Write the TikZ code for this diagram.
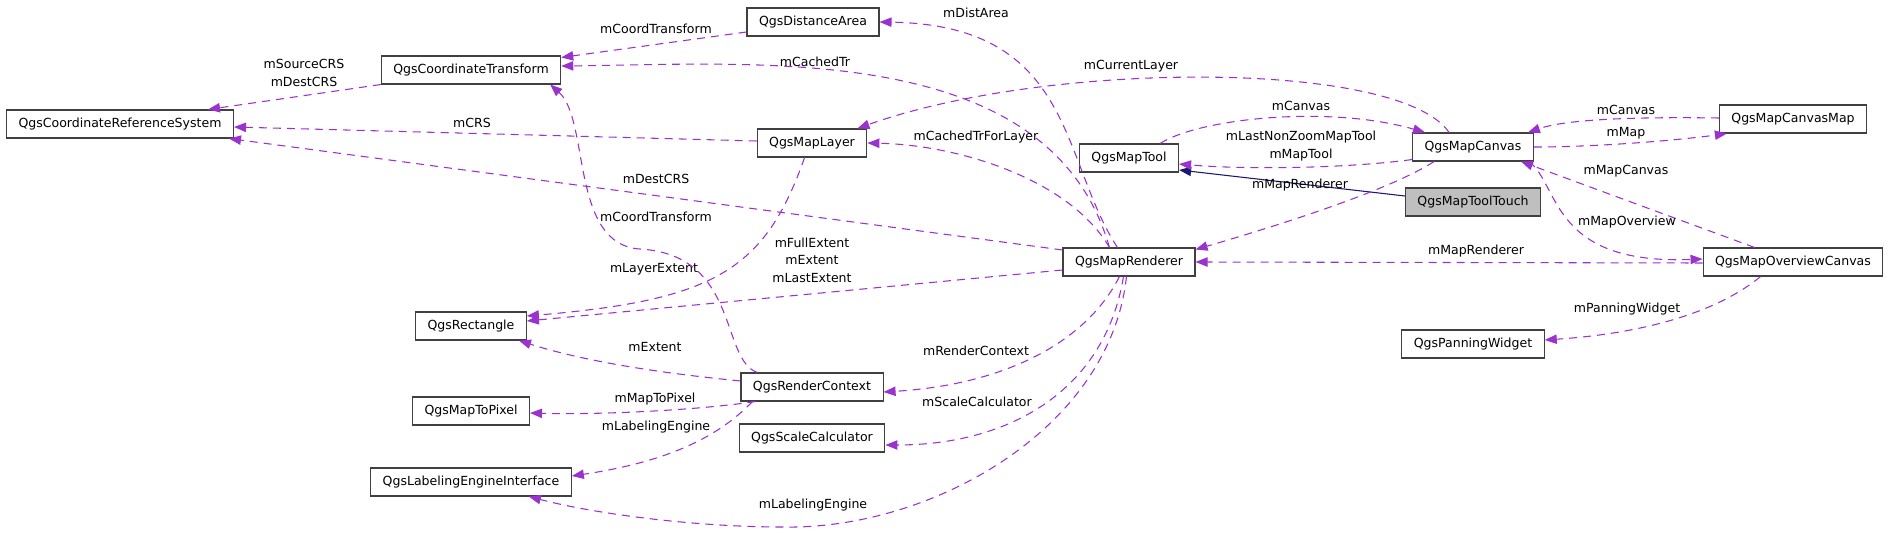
\documentclass[tikz,border=0pt]{standalone}
\usepackage{fontspec}
\setmainfont{DejaVu Sans}
\usetikzlibrary{arrows.meta, calc}
\definecolor{refPurple}{HTML}{9A32CD}
\definecolor{inhNavy}{HTML}{191970}
\definecolor{boxDraw}{HTML}{404040}
\definecolor{curFill}{HTML}{BFBFBF}

\begin{document}
\begin{tikzpicture}[
  x=0.75pt, y=-0.75pt,
  font=\fontsize{9.4}{13}\selectfont,
  cls/.style={rectangle, draw=boxDraw, line width=0.8pt, fill=white,
              inner xsep=9pt, inner ysep=0pt, minimum height=21pt},
  cur/.style={cls, fill=curFill},
  ref/.style={-{Triangle[length=9pt,width=7pt]}, draw=refPurple, line width=0.8pt,
              dash pattern=on 6pt off 4.5pt},
  inh/.style={-{Triangle[length=9pt,width=7pt]}, draw=inhNavy, line width=0.8pt},
  lbl/.style={align=center, inner sep=0pt},
]
\path[fill=white] (0,0) rectangle (1888,549);
\useasboundingbox (0,0) rectangle (1888,549);

% ---- Classes ----
\node[cls] (crs)       at (120,124)  {QgsCoordinateReferenceSystem};
\node[cls] (ct)        at (471,70)   {QgsCoordinateTransform};
\node[cls] (dist)      at (813,22)   {QgsDistanceArea};
\node[cls] (layer)     at (812,143)  {QgsMapLayer};
\node[cls] (tool)      at (1129,158) {QgsMapTool};
\node[cls] (canvas)    at (1473,147) {QgsMapCanvas};
\node[cls] (canvasmap) at (1793,119) {QgsMapCanvasMap};
\node[cur] (touch)     at (1473,202) {QgsMapToolTouch};
\node[cls] (renderer)  at (1129,262) {QgsMapRenderer};
\node[cls] (overview)  at (1793,262) {QgsMapOverviewCanvas};
\node[cls] (rect)      at (471,326)  {QgsRectangle};
\node[cls] (panning)   at (1473,344) {QgsPanningWidget};
\node[cls] (context)   at (812,387)  {QgsRenderContext};
\node[cls] (topixel)   at (471,411)  {QgsMapToPixel};
\node[cls] (scalecalc) at (812,438)  {QgsScaleCalculator};
\node[cls] (labeling)  at (471,482)  {QgsLabelingEngineInterface};

% ---- Inheritance ----
\draw[inh] ($(touch.west)+(0,-6)$) -- ($(tool.east)+(0,12)$);

% ---- Usage: left part ----
\draw[ref] (ct.south west) -- ($(crs.north east)+(-26,0)$)
  node[lbl] (lSrcCRS) at (304,73) {mSourceCRS\\mDestCRS};
\draw[ref] ($(dist.west)+(0,10)$) -- ($(ct.north east)+(0,2)$)
  node[lbl] (lCT1) at (656,29) {mCoordTransform};
\draw[ref] ($(layer.west)+(0,-2)$) -- ($(crs.east)+(0,3)$)
  node[lbl] (lCRS) at (472,123) {mCRS};
\draw[ref] ($(renderer.west)+(0,-12)$) -- ($(crs.south east)+(-5,0)$)
  node[lbl] (lDest) at (656,179) {mDestCRS};
\draw[ref] ($(layer.south west)+(48,0)$) .. controls (765,270) and (715,300) .. ($(rect.east)+(0,-10)$)
  node[lbl] (lLayExt) at (654,269) {mLayerExtent};
\draw[ref] ($(renderer.west)+(0,8)$) -- ($(rect.east)+(0,-5)$)
  node[lbl] (lExt) at (812,260) {mFullExtent\\mExtent\\mLastExtent};

% render context (curve bends twice on its way up)
\draw[ref] ($(context.north west)+(17,0)$) .. controls (720,360) and (740,255) .. (640,249)
  .. controls (570,245) and (590,120) .. ($(ct.south east)+(-11,0)$)
  node[lbl] (lCT2) at (656,217) {mCoordTransform};
\draw[ref] ($(context.west)+(0,-6)$) .. controls (650,372) and (580,360) .. ($(rect.south east)+(-8,0)$)
  node[lbl] (lRcExt) at (655,347) {mExtent};
\draw[ref] ($(context.south west)+(15,0)$) .. controls (700,410) and (600,415) .. ($(topixel.east)+(0,2)$)
  node[lbl] (lM2P) at (655,399) {mMapToPixel};
\draw[ref] ($(context.south west)+(12,0)$) .. controls (725,430) and (680,460) .. ($(labeling.east)+(0,-6)$)
  node[lbl] (lLab1) at (656,427) {mLabelingEngine};

% ---- Usage: renderer ----
\draw[ref] ($(renderer.north west)+(47,0)$) .. controls (1050,40) and (760,64) .. ($(ct.east)+(0,-4)$)
  node[lbl] (lCTr) at (815,62) {mCachedTr};
\draw[ref] ($(renderer.north west)+(55,0)$) .. controls (1060,160) and (1075,25) .. (dist.east)
  node[lbl] (lDist) at (976,13) {mDistArea};
\draw[ref] ($(renderer.north west)+(47,0)$) .. controls (1070,180) and (960,145) .. (layer.east)
  node[lbl] (lCTrL) at (976,137) {mCachedTrForLayer};
\draw[ref] ($(renderer.south west)+(57,0)$) .. controls (1085,345) and (1000,385) .. ($(context.east)+(0,5)$)
  node[lbl] (lRC) at (976,351) {mRenderContext};
\draw[ref] ($(renderer.south west)+(61,0)$) .. controls (1105,390) and (1010,445) .. ($(scalecalc.east)+(0,7)$)
  node[lbl] (lSC) at (977,402) {mScaleCalculator};
\draw[ref] ($(renderer.south west)+(64,0)$) .. controls (1110,430) and (930,530) .. (783,527)
  .. controls (700,527) and (600,515) .. ($(labeling.south east)+(-43,0)$)
  node[lbl] (lLab2) at (813,505) {mLabelingEngine};

% ---- Usage: canvas side ----
\draw[ref] ($(canvas.north west)+(37,0)$) .. controls (1400,60) and (1050,60) .. ($(layer.north east)+(-10,0)$)
  node[lbl] (lCurLay) at (1131,66) {mCurrentLayer};
\draw[ref] ($(tool.north east)+(-19,0)$) .. controls (1200,118) and (1330,105) .. ($(canvas.north west)+(13,0)$)
  node[lbl] (lCanv1) at (1301,106) {mCanvas};
\draw[ref] ($(canvas.south west)+(0,-2)$) .. controls (1350,168) and (1250,170) .. ($(tool.east)+(0,6)$)
  node[lbl] (lTool) at (1301,146) {mLastNonZoomMapTool\\mMapTool};
\draw[ref] ($(canvas.south west)+(22,0)$) .. controls (1390,190) and (1280,225) .. ($(renderer.north east)+(0,2)$)
  node[lbl] (lMR1) at (1300,185) {mMapRenderer};
\draw[ref] ($(overview.west)+(0,1)$) -- (renderer.east)
  node[lbl] (lMR2) at (1476,251) {mMapRenderer};
\draw[ref] ($(canvasmap.west)+(0,-1)$) .. controls (1650,117) and (1570,118) .. ($(canvas.north east)+(-6,0)$)
  node[lbl] (lCanv2) at (1626,110) {mCanvas};
\draw[ref] (canvas.east) .. controls (1600,147) and (1680,140) .. ($(canvasmap.south west)+(8,0)$)
  node[lbl] (lMap) at (1626,133) {mMap};
\draw[ref] ($(overview.north west)+(52,0)$) -- ($(canvas.south east)+(-13,0)$)
  node[lbl] (lMC) at (1626,171) {mMapCanvas};
\draw[ref] ($(canvas.south east)+(-5,0)$) .. controls (1560,185) and (1550,265) .. ($(overview.west)+(0,-3)$)
  node[lbl] (lMO) at (1627,222) {mMapOverview};
\draw[ref] ($(overview.south west)+(58,0)$) .. controls (1720,310) and (1650,333) .. ($(panning.east)+(0,-4)$)
  node[lbl] (lPan) at (1627,309) {mPanningWidget};

\end{tikzpicture}
\end{document}
